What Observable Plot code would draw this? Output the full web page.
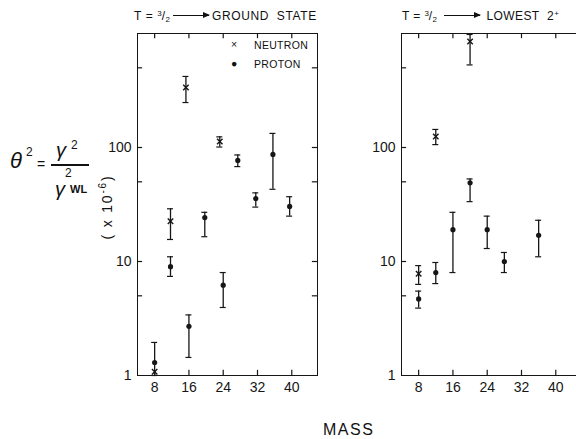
<!DOCTYPE html>
<html><head><meta charset="utf-8">
<script src="https://cdn.jsdelivr.net/npm/d3@7"></script>
<script src="https://cdn.jsdelivr.net/npm/@observablehq/plot@0.6"></script>
<style>
body{margin:0;background:#fff;}
#wrap{position:relative;width:576px;height:439px;overflow:hidden;font-family:"Liberation Sans",Arial,sans-serif;color:#111;background:#fff;}
.abs{position:absolute;white-space:nowrap;line-height:1;}
.title{font-size:12px;letter-spacing:0.6px;}
.title sup{font-size:8px;vertical-align:4px;letter-spacing:0;}
.title sub{font-size:8px;vertical-align:-2px;letter-spacing:0;}
.arrow{display:inline-block;position:relative;width:36px;height:1px;background:#111;vertical-align:4px;margin:0 3px;}
.arrow:after{content:"";position:absolute;right:-1px;top:-3px;border-left:7px solid #111;border-top:3.5px solid transparent;border-bottom:3.5px solid transparent;}
.leg{font-size:10.5px;letter-spacing:0.3px;}
svg{position:absolute;top:0;overflow:visible;}
</style></head><body><div id="wrap">
<div class="abs title" style="left:134px;top:10px">T = <sup>3</sup>/<sub>2</sub><span class="arrow"></span>GROUND&nbsp; STATE</div>
<div class="abs title" style="left:402px;top:10px;letter-spacing:0.4px">T = <sup>3</sup>/<sub>2</sub> <span class="arrow"></span>&nbsp;LOWEST&nbsp; 2<sup>+</sup></div>
<div class="abs leg" style="left:231px;top:39px">×</div>
<div class="abs leg" style="left:254px;top:40px">NEUTRON</div>
<div class="abs leg" style="left:231px;top:58px">●</div>
<div class="abs leg" style="left:254px;top:59px">PROTON</div>
<div class="abs" style="left:10px;top:150px;font-size:22px;font-style:italic;">θ</div>
<div class="abs" style="left:26px;top:146px;font-size:12px;">2</div>
<div class="abs" style="left:37px;top:157px;font-size:14px;">=</div>
<div class="abs" style="left:56px;top:140px;font-size:20px;font-style:italic;">γ</div>
<div class="abs" style="left:71px;top:139px;font-size:12px;">2</div>
<div class="abs" style="left:51px;top:164px;width:38px;height:1.5px;background:#111;"></div>
<div class="abs" style="left:55px;top:179px;font-size:20px;font-style:italic;">γ</div>
<div class="abs" style="left:65px;top:167px;font-size:12px;">2</div>
<div class="abs" style="left:70px;top:184px;font-size:11px;font-weight:bold;">WL</div>
<div class="abs" style="left:106px;top:207px;font-size:14px;letter-spacing:1.8px;transform:translate(-50%,-50%) rotate(-90deg);">( x 10<sup style="font-size:10px">-6</sup>)</div>
<div class="abs" style="left:323px;top:422px;font-size:16px;letter-spacing:1.5px;">MASS</div>
</div>
<script>
// Ground state panel: neutron emission
const gsNeutronMass = [8, 11.7, 15.3, 23.2];
const gsNeutronValue = [1.08, 22.5, 336, 113];
const gsNeutronLo = [null, 15.6, 248, 101];
const gsNeutronHi = [null, 29, 420, 124];
// Ground state panel: proton emission
const gsProtonMass = [8, 11.7, 16, 19.7, 24, 27.4, 31.6, 35.6, 39.5];
const gsProtonValue = [1.3, 9.0, 2.7, 24.3, 6.2, 77, 35.7, 87, 30.4];
const gsProtonLo = [1.0, 7.4, 1.44, 16.5, 3.95, 68, 30, 43, 25];
const gsProtonHi = [1.95, 11, 3.4, 27, 8.0, 86, 40, 133, 37];
// Lowest 2+ panel: neutron emission
const l2NeutronMass = [8, 12, 20];
const l2NeutronValue = [7.8, 125, 850];
const l2NeutronLo = [6.3, 106, 530];
const l2NeutronHi = [9.2, 144, 980];
// Lowest 2+ panel: proton emission
const l2ProtonMass = [8, 12, 16, 20, 24, 28, 36];
const l2ProtonValue = [4.7, 8.0, 19, 49, 19, 10, 17];
const l2ProtonLo = [3.9, 6.4, 8, 33.5, 13, 8, 11];
const l2ProtonHi = [5.5, 9.8, 27, 53, 25, 12, 23];
// Axis ticks
const xTicks = [8, 16, 24, 32, 40];
const yLabelTicks = [1, 10, 100];
const yMinorTicks = [5, 10, 50, 100, 500];

function rows(mass, value, lo, hi) {
  return mass.map((m, i) => ({mass: m, value: value[i], lo: lo[i], hi: hi[i]}));
}

const ink = "#161616";
const cap = 0.7;
const tkX = 1.2;      // tick length along x, in mass units
const tkY = 1.11;     // tick length along log y, as a ratio

function panel(neutron, proton, opts) {
  const x0 = 4, x1 = 46, y0 = 1, y1 = 1000;
  const bars = neutron.concat(proton).filter(d => d.lo != null);
  const xt = xTicks.map(v => ({mass: v, lo: y0, hi: y0 * tkY, lo2: y1 / tkY, hi2: y1}));
  const yt = yMinorTicks.map(v => ({value: v, a: x0, b: x0 + tkX, c: x1 - tkX, d: x1}));
  return Plot.plot({
    width: opts.width, height: 439,
    marginLeft: opts.marginLeft, marginRight: opts.marginRight,
    marginTop: 33, marginBottom: 64,
    style: {fontFamily: "'Liberation Sans', Arial, sans-serif", fontSize: "14px", color: ink, background: "transparent", overflow: "visible"},
    x: {domain: [x0, x1]},
    y: {type: "log", domain: [y0, y1]},
    marks: [
      Plot.frame({stroke: ink, strokeWidth: 1}),
      Plot.axisX({anchor: "bottom", ticks: xTicks, tickSize: 0, tickPadding: 7, fontSize: 14, label: null}),
      Plot.axisY({anchor: "left", ticks: yLabelTicks, tickSize: 0, tickPadding: 6, tickFormat: d3.format("d"), fontSize: 14, label: null}),
      // inward tick marks
      Plot.ruleX(xt, {x: "mass", y1: "lo", y2: "hi", stroke: ink, strokeWidth: 1.2}),
      Plot.ruleX(xt, {x: "mass", y1: "lo2", y2: "hi2", stroke: ink, strokeWidth: 1.2}),
      Plot.ruleY(yt, {y: "value", x1: "a", x2: "b", stroke: ink, strokeWidth: 1.2}),
      ...(opts.rightTicks ? [Plot.ruleY(yt, {y: "value", x1: "c", x2: "d", stroke: ink, strokeWidth: 1.2})] : []),
      Plot.ruleX(bars, {x: "mass", y1: "lo", y2: "hi", stroke: ink, strokeWidth: 1.3}),
      Plot.ruleY(bars, {y: "lo", x1: d => d.mass - cap, x2: d => d.mass + cap, stroke: ink, strokeWidth: 1.2}),
      Plot.ruleY(bars, {y: "hi", x1: d => d.mass - cap, x2: d => d.mass + cap, stroke: ink, strokeWidth: 1.2}),
      Plot.dot(proton, {x: "mass", y: "value", r: 2.6, fill: ink, stroke: "none"}),
      Plot.dot(neutron, {x: "mass", y: "value", r: 2.6, symbol: "times", stroke: ink, strokeWidth: 1.4})
    ]
  });
}

const wrap = document.getElementById("wrap");
const left = panel(
  rows(gsNeutronMass, gsNeutronValue, gsNeutronLo, gsNeutronHi),
  rows(gsProtonMass, gsProtonValue, gsProtonLo, gsProtonHi),
  {width: 330, marginLeft: 137, marginRight: 13, rightTicks: true}
);
left.style.left = "0px";
const right = panel(
  rows(l2NeutronMass, l2NeutronValue, l2NeutronLo, l2NeutronHi),
  rows(l2ProtonMass, l2ProtonValue, l2ProtonLo, l2ProtonHi),
  {width: 251, marginLeft: 61, marginRight: 10, rightTicks: false}
);
right.style.left = "340px";
wrap.insertBefore(left, wrap.firstChild);
wrap.insertBefore(right, wrap.firstChild);
</script>
</body></html>
